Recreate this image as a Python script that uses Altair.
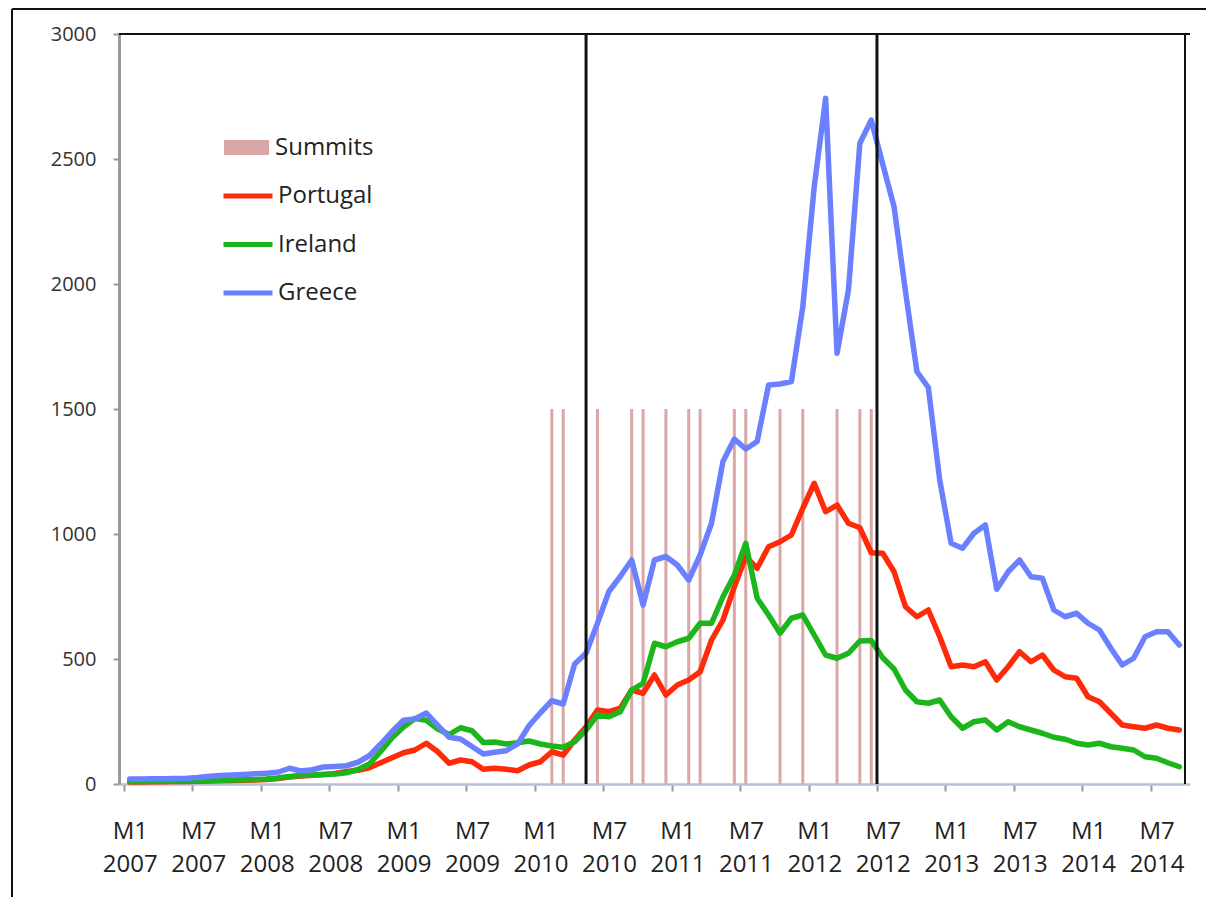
import altair as alt
import pandas as pd

# Monthly series, Jan 2007 .. Sep 2014 (93 months)
greece = [20, 20, 21, 21, 22, 23, 26, 31, 34, 36, 38, 41,
          43, 47, 63, 52, 57, 68, 70, 73, 87, 113, 160, 210,
          255, 260, 284, 235, 187, 180, 150, 120, 127, 133, 160, 233,
          285, 333, 320, 480, 523, 643, 770, 830, 896, 716, 896, 910,
          876, 816, 916, 1043, 1290, 1380, 1340, 1370, 1596, 1600, 1610, 1909,
          2389, 2743, 1723, 1976, 2563, 2656, 2480, 2309, 1970, 1650, 1586, 1216,
          963, 943, 1003, 1036, 779, 849, 896, 829, 823, 696, 669, 683,
          643, 616, 543, 476, 503, 589, 609, 609, 556]
ireland = [10, 10, 11, 11, 12, 12, 13, 14, 15, 16, 17, 18,
           20, 24, 30, 34, 36, 38, 40, 45, 58, 80, 130, 185,
           228, 262, 255, 220, 198, 225, 213, 166, 168, 160, 165, 172,
           160, 152, 147, 169, 216, 276, 269, 289, 376, 403, 563, 549,
           569, 583, 643, 643, 749, 836, 963, 743, 676, 603, 663, 676,
           596, 516, 503, 523, 572, 574, 505, 460, 376, 329, 323, 336,
           269, 223, 249, 256, 216, 249, 229, 216, 203, 187, 179, 163,
           156, 163, 149, 143, 136, 109, 103, 85, 69]
portugal = [8, 8, 9, 9, 10, 10, 11, 12, 13, 14, 15, 16,
            18, 22, 28, 32, 35, 38, 42, 50, 55, 65, 85, 105,
            125, 136, 163, 129, 83, 96, 89, 59, 63, 59, 53, 76,
            89, 129, 116, 176, 229, 296, 289, 303, 376, 363, 436, 356,
            396, 416, 449, 576, 656, 789, 909, 863, 949, 969, 996, 1103,
            1203, 1089, 1116, 1043, 1025, 925, 923, 849, 709, 669, 696, 589,
            469, 476, 469, 489, 416, 469, 529, 489, 516, 456, 429, 423,
            349, 329, 283, 236, 229, 223, 236, 223, 216]

# Summit months (month index from Jan 2007 = 0) and their bar height
summit_months = [37, 38, 41, 44, 45, 47, 49, 50, 53, 54, 57, 59, 62, 64, 65]
summit_height = 1500

# Vertical event markers (position on the month axis)
event_positions = [40.5, 66.0]

x_domain = [0, 93]
y_domain = [0, 3000]
tick_months = list(range(0, 91, 6))
y_ticks = [0, 500, 1000, 1500, 2000, 2500, 3000]

FONT = "Open Sans"

rows = []
for name, series in [("Portugal", portugal), ("Ireland", ireland), ("Greece", greece)]:
    for i, v in enumerate(series):
        rows.append({"m": i + 0.5, "value": v, "country": name})
lines_df = pd.DataFrame(rows)

summit_df = pd.DataFrame({"m": [s + 0.5 for s in summit_months],
                          "value": [summit_height] * len(summit_months),
                          "kind": ["Summits"] * len(summit_months)})
event_df = pd.DataFrame({"m": event_positions})

xscale = alt.Scale(domain=x_domain, nice=False, zero=False)
yscale = alt.Scale(domain=y_domain, nice=False)

xaxis = alt.Axis(values=tick_months, title=None, grid=False,
                 labelExpr="['M' + ((datum.value % 12) + 1), '' + (2007 + floor(datum.value / 12))]",
                 labelFont=FONT, labelFontSize=24, labelLineHeight=33, labelColor="#222",
                 labelPadding=28, labelOffset=5.8, labelAngle=0,
                 tickSize=7, tickColor="#999", tickWidth=2,
                 domainColor="#B3C1D9", domainWidth=2.5)
yaxis = alt.Axis(values=y_ticks, title=None, grid=False, format="d",
                 labelFont=FONT, labelFontSize=20, labelColor="#333",
                 labelPadding=17, tickSize=6, tickColor="#999", tickWidth=2,
                 domainColor="#999", domainWidth=3)

summits = alt.Chart(summit_df).mark_bar(size=3).encode(
    x=alt.X("m:Q", scale=xscale, axis=xaxis),
    y=alt.Y("value:Q", scale=yscale, axis=yaxis),
    color=alt.Color("kind:N",
                    scale=alt.Scale(domain=["Summits"], range=["#DBA6A6"]),
                    legend=alt.Legend(title=None, orient="none", legendX=104, legendY=90,
                                      symbolType="M-1,-0.333L1,-0.333L1,0.333L-1,0.333Z",
                                      symbolSize=2025, symbolOpacity=1,
                                      labelFont=FONT, labelFontSize=24, labelColor="#222",
                                      labelOffset=5, padding=0)),
)

lines = alt.Chart(lines_df).mark_line(strokeWidth=5.5, strokeJoin="round", strokeCap="round").encode(
    x=alt.X("m:Q", scale=xscale),
    y=alt.Y("value:Q", scale=yscale),
    color=alt.Color("country:N",
                    scale=alt.Scale(domain=["Portugal", "Ireland", "Greece"],
                                    range=["#FF2A0A", "#1CB51C", "#6A80FF"]),
                    legend=alt.Legend(title=None, orient="none", legendX=102, legendY=135,
                                      symbolType="stroke", symbolStrokeWidth=5, symbolSize=2401,
                                      labelFont=FONT, labelFontSize=24, labelColor="#222",
                                      labelOffset=3, rowPadding=9.5, padding=0)),
    detail="country:N",
)

events = alt.Chart(event_df).mark_rule(color="#111", strokeWidth=3).encode(
    x=alt.X("m:Q", scale=xscale),
)

# Plot-area border: top and right edges at the ends of the scale domains
edge_df = pd.DataFrame({"xmax": [x_domain[1]], "ymax": [y_domain[1]]})
edge_right = alt.Chart(edge_df).mark_rule(color="#111", strokeWidth=2).encode(
    x=alt.X("xmax:Q", scale=xscale))
edge_top = alt.Chart(edge_df).mark_rule(color="#111", strokeWidth=2).encode(
    y=alt.Y("ymax:Q", scale=yscale))

# Outer picture border (top and left edges only; the others fall outside the image)
frame_df = pd.DataFrame({"f": [0]})
frame_top = alt.Chart(frame_df).mark_rule(color="#111", strokeWidth=2).encode(
    x=alt.value(-107), x2=alt.value(1095), y=alt.value(-25))
frame_left = alt.Chart(frame_df).mark_rule(color="#111", strokeWidth=2).encode(
    x=alt.value(-107), y=alt.value(-25), y2=alt.value(880))

chart = alt.layer(summits, lines, events, edge_right, edge_top, frame_top, frame_left).resolve_scale(
    color="independent"
).properties(
    width=1071, height=750,
    background="white",
    padding={"left": 111, "top": 26, "right": 16, "bottom": 113},
    autosize=alt.AutoSizeParams(type="none"),
).configure_view(
    stroke=None
)

chart.save("out.html", embed_options={"renderer": "svg", "actions": False})
